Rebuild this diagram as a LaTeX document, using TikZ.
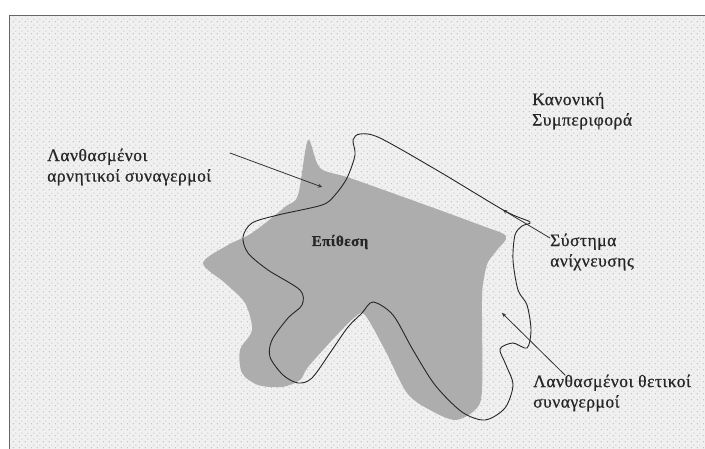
\documentclass[tikz,border=0pt]{standalone}
\usepackage{fontspec}
\setmainfont{Liberation Serif}[LetterSpace=3, FakeBold=0.7]
\usetikzlibrary{patterns.meta}

\tikzdeclarepattern{
  name=speckle,
  type=uncolored,
  bounding box={(0pt,0pt) and (6pt,6pt)},
  tile size={(6pt,6pt)},
  code={\fill (1.5pt,1.5pt) circle (0.7pt); \fill (4.5pt,4.5pt) circle (0.7pt);}
}

\begin{document}
\begin{tikzpicture}[x=1pt, y=-1pt, font=\fontsize{17.5}{20.5}\selectfont, line join=round, line cap=round, >=stealth,
	lbl/.style={inner sep=0pt, align=left, anchor=west, text=black!85},
	pointer/.style={->, line width=0.8pt, black!80}]
	\useasboundingbox (0,0) rectangle (705,449);
	\clip (0,0) rectangle (705,449);
	\fill[white] (0,0) rectangle (705,449);
	% frame with dotted background
	\draw[black!60, line width=0.8pt, preaction={fill=black!6}, pattern=speckle, pattern color=black!28]
		(9,15) rectangle (712,456);
	% attack region
	\fill[black!32] plot[smooth cycle, tension=0.5] coordinates {
		(308,140) (320,168) (350,178) (420,203) (480,225) (506,236) (497,250) (488,262)
		(484,278) (482,300) (482,390) (475,410) (455,420) (430,410) (407,393) (385,350)
		(365,315) (355,317) (335,337) (308,367) (300,380) (282,387) (258,385) (242,373)
		(240,350) (252,330) (245,303) (225,283) (203,263) (228,245) (252,233) (285,207)
		(298,195)};
	% detection system
	\draw[line width=0.9pt, black!85] plot[smooth cycle, tension=0.5] coordinates {
		(353,140) (360,134) (380,138) (440,172) (505,211) (530,222) (522,226) (515,235)
		(513,260) (518,290) (527,305) (531,330) (527,348) (513,343) (500,349) (506,365)
		(513,385) (505,408) (485,420) (462,412) (435,385) (413,350) (393,315) (373,302)
		(362,313) (348,327) (332,350) (312,378) (298,383) (283,375) (270,357) (272,340)
		(288,318) (302,305) (300,290) (268,270) (248,253) (243,237) (252,223) (278,215)
		(322,205) (335,195) (347,178) (355,155)};
	\node[lbl] (normal) at (532,111) {Κανονική\\Συμπεριφορά};
	\node[lbl] (falseneg) at (47,167) {Λανθασμένοι\\αρνητικοί συναγερμοί};
	\node[lbl] (detect) at (550,252) {Σύστημα\\ανίχνευσης};
	\node[lbl] (falsepos) at (533,393) {Λανθασμένοι θετικοί\\συναγερμοί};
	\node[inner sep=0pt, text=black!85, font=\fontsize{15}{18}\selectfont\bfseries] (attack) at (340,242) {Επίθεση};
	\coordinate (negtail) at (230,153);
	\coordinate (negtip) at (322,187);
	\coordinate (dettail) at (550,238);
	\coordinate (dettip) at (503,210);
	\coordinate (postail) at (565,375);
	\coordinate (postip) at (502,313);
	\draw[pointer] (negtail) -- (negtip);
	\draw[pointer] (dettail) -- (dettip);
	\draw[pointer] (postail) -- (postip);
\end{tikzpicture}
\end{document}
